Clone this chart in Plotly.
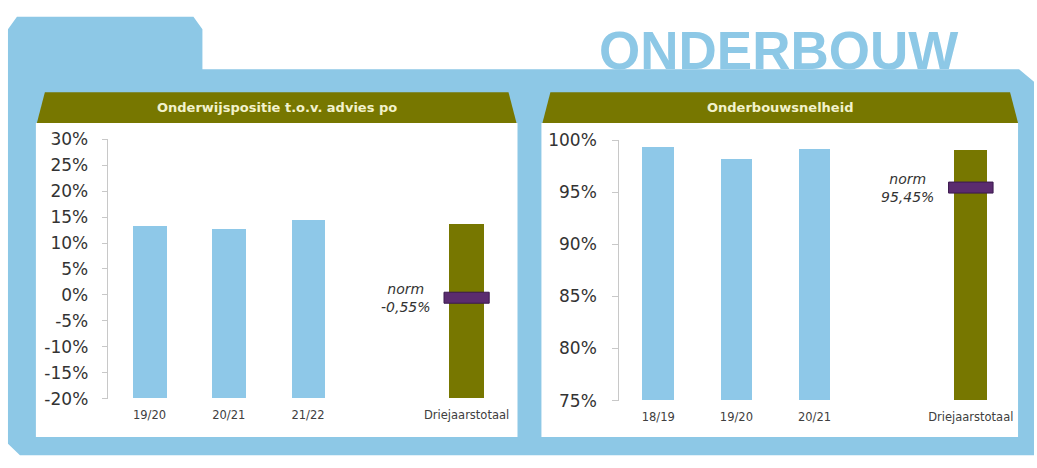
import plotly.graph_objects as go

W, H = 1037, 468

# ---------------- data ----------------
left_title = "Onderwijspositie t.o.v. advies po"
left_years = ["19/20", "20/21", "21/22"]
left_values = [13.2, 12.6, 14.4]
left_total_label = "Driejaarstotaal"
left_total = 13.6
left_norm = -0.55
left_norm_text = "norm<br>-0,55%"
left_ticks = [-20, -15, -10, -5, 0, 5, 10, 15, 20, 25, 30]
left_ticktext = ["-20%", "-15%", "-10%", "-5%", "0%", "5%", "10%", "15%", "20%", "25%", "30%"]

right_title = "Onderbouwsnelheid"
right_years = ["18/19", "19/20", "20/21"]
right_values = [99.3, 98.2, 99.1]
right_total_label = "Driejaarstotaal"
right_total = 99.0
right_norm = 95.45
right_norm_text = "norm<br>95,45%"
right_ticks = [75, 80, 85, 90, 95, 100]
right_ticktext = ["75%", "80%", "85%", "90%", "95%", "100%"]

page_title = "ONDERBOUW"

# ---------------- styles ----------------
BLUE = "#8DC8E6"
BAR_BLUE = "#8EC8E8"
OLIVE = "#777700"
PURPLE = "#5B2C6F"
PURPLE_EDGE = "#3B1A4E"
CREAM = "#F2F2CC"
TXT = "#333333"
AXIS = "#C8C8C8"


def px(x):
    return x / W


def py(y):
    return 1 - y / H


def path(points, close=True):
    s = "M " + " L ".join(f"{px(x):.5f},{py(y):.5f}" for x, y in points)
    return s + (" Z" if close else "")


fig = go.Figure()

# left chart
left_base = left_ticks[0]
left_cats = left_years + [" ", left_total_label]
fig.add_trace(go.Bar(x=left_years, y=[v - left_base for v in left_values], base=left_base,
                     marker=dict(color=BAR_BLUE, line=dict(width=0)), width=0.42,
                     xaxis="x", yaxis="y", showlegend=False))
fig.add_trace(go.Bar(x=[left_total_label], y=[left_total - left_base], base=left_base,
                     marker=dict(color=OLIVE, line=dict(width=0)), width=0.44,
                     xaxis="x", yaxis="y", showlegend=False))

# right chart
right_base = right_ticks[0]
right_cats = right_years + [" ", right_total_label]
fig.add_trace(go.Bar(x=right_years, y=[v - right_base for v in right_values], base=right_base,
                     marker=dict(color=BAR_BLUE, line=dict(width=0)), width=0.40,
                     xaxis="x2", yaxis="y2", showlegend=False))
fig.add_trace(go.Bar(x=[right_total_label], y=[right_total - right_base], base=right_base,
                     marker=dict(color=OLIVE, line=dict(width=0)), width=0.42,
                     xaxis="x2", yaxis="y2", showlegend=False))

shapes = []
# blue background with tab
shapes.append(dict(type="path", xref="paper", yref="paper", layer="below",
                   path=path([(8, 20), (17, 7), (194, 7), (203, 20), (203, 62), (1022, 62),
                              (1037, 75), (1037, 465), (20, 465), (8, 453)]),
                   fillcolor=BLUE, line=dict(width=0)))
# white panels
for x0, x1 in [(36, 519), (543, 1021)]:
    shapes.append(dict(type="rect", xref="paper", yref="paper", layer="below",
                       x0=px(x0), x1=px(x1), y0=py(446), y1=py(118),
                       fillcolor="#FFFFFF", line=dict(width=0)))
# olive headers
for pts in [[(45, 86), (510, 86), (518, 118), (37, 118)],
            [(552, 86), (1013, 86), (1021, 118), (544, 118)]]:
    shapes.append(dict(type="path", xref="paper", yref="paper", layer="below",
                       path=path(pts), fillcolor=OLIVE, line=dict(width=0)))

# norm markers
for xr, yr, nv in [("x", "y", left_norm), ("x2", "y2", right_norm)]:
    shapes.append(dict(type="rect", xref=xr, yref=yr, ysizemode="pixel", yanchor=nv,
                       x0=3.715, x1=4.285, y0=-5.5, y1=5.5,
                       fillcolor=PURPLE, line=dict(color=PURPLE_EDGE, width=1), layer="above"))

annotations = [
    dict(text=page_title, xref="paper", yref="paper", x=px(781), y=py(42), showarrow=False,
         xanchor="center", yanchor="middle",
         font=dict(family="Liberation Sans", size=53, color=BLUE, weight="bold")),
    dict(text=left_title, xref="paper", yref="paper", x=px(278), y=py(102), showarrow=False,
         xanchor="center", yanchor="middle",
         font=dict(family="DejaVu Sans", size=13, color=CREAM, weight="bold")),
    dict(text=right_title, xref="paper", yref="paper", x=px(782), y=py(102), showarrow=False,
         xanchor="center", yanchor="middle",
         font=dict(family="DejaVu Sans", size=13, color=CREAM, weight="bold")),
    dict(text=left_norm_text, xref="x", yref="y", x=3.23, y=left_norm, showarrow=False,
         xanchor="center", yanchor="middle",
         font=dict(family="DejaVu Sans", size=14, color=TXT, style="italic")),
    dict(text=right_norm_text, xref="x2", yref="y2", x=3.19, y=right_norm, showarrow=False,
         xanchor="center", yanchor="middle",
         font=dict(family="DejaVu Sans", size=14, color=TXT, style="italic")),
]

tickfont_y = dict(family="DejaVu Sans", size=17, color=TXT)
tickfont_x = dict(family="DejaVu Sans", size=11.5, color="#404040")

fig.update_layout(
    width=W, height=H, margin=dict(l=0, r=0, t=0, b=0), autosize=False,
    paper_bgcolor="#FFFFFF", plot_bgcolor="rgba(0,0,0,0)",
    bargap=0, barmode="overlay",
    shapes=shapes, annotations=annotations,
    xaxis=dict(domain=[px(108), px(507.7)], range=[-0.528, 4.5], type="category",
               categoryorder="array", categoryarray=left_cats, showline=False,
               showgrid=False, ticks="", tickfont=tickfont_x, ticklabelstandoff=8,
               anchor="y", fixedrange=True),
    yaxis=dict(domain=[py(406), py(135)], range=[left_ticks[0], left_ticks[-1]],
               tickvals=left_ticks, ticktext=left_ticktext, showgrid=False, zeroline=False,
               showline=True, linecolor=AXIS, linewidth=1, ticks="outside", ticklen=5,
               tickcolor=AXIS, tickfont=tickfont_y, ticklabelstandoff=10, anchor="x",
               fixedrange=True),
    xaxis2=dict(domain=[px(621), px(1012.8)], range=[-0.5, 4.5], type="category",
                categoryorder="array", categoryarray=right_cats, showline=False,
                showgrid=False, ticks="", tickfont=tickfont_x, ticklabelstandoff=8,
                anchor="y2", fixedrange=True),
    yaxis2=dict(domain=[py(408), py(136)], range=[right_ticks[0], right_ticks[-1]],
                tickvals=right_ticks, ticktext=right_ticktext, showgrid=False, zeroline=False,
                showline=True, linecolor=AXIS, linewidth=1, ticks="outside", ticklen=6,
                tickcolor=AXIS, tickfont=tickfont_y, ticklabelstandoff=12, anchor="x2",
                fixedrange=True),
)

post = (
    "[document.documentElement,document.body].forEach(function(e){"
    "e.style.margin='0';e.style.padding='0';e.style.overflow='hidden';});"
)

fig.write_html("out.html", config={"displayModeBar": False, "responsive": False},
               post_script=post)
